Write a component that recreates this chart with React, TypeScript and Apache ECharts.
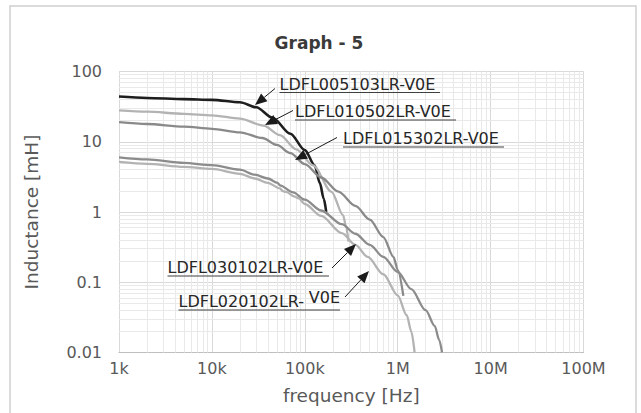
import React, { useEffect, useRef } from "react";
import * as echarts from "echarts";

// ---- axis tick labels ----
const xTickLabels = ["1k", "10k", "100k", "1M", "10M", "100M"];
const yTickLabels = ["0.01", "0.1", "1", "10", "100"];

// ---- series data (frequency [Hz], inductance [mH]) ----
const names = [
  "LDFL005103LR-V0E",
  "LDFL010502LR-V0E",
  "LDFL015302LR-V0E",
  "LDFL030102LR-V0E",
  "LDFL020102LR-V0E",
];

const f005103 = [1000, 2000, 5000, 10000, 20000, 30000, 45000, 70000, 100000, 128000, 145000, 160000, 170000];
const l005103 = [44, 42, 40.5, 39.5, 36.5, 31, 22, 13, 7.6, 4.6, 2.6, 1.55, 1.0];

const f010502 = [1000, 2000, 5000, 10000, 20000, 36000, 54000, 81000, 123000, 194000, 258000, 280000, 295000];
const l010502 = [28, 26.8, 25, 23.8, 21.3, 17, 12.4, 7.8, 4.6, 1.94, 0.9, 0.6, 0.38];

const f015302 = [1000, 2000, 5000, 10000, 20000, 35000, 50000, 70000, 100000, 150000, 230000, 350000, 500000, 700000, 900000, 1000000, 1150000];
const l015302 = [19, 17.9, 16.4, 15.3, 13.6, 11.3, 9.0, 6.9, 4.8, 3.1, 1.95, 1.22, 0.78, 0.44, 0.23, 0.15, 0.064];

const f030102 = [1000, 2000, 5000, 10000, 20000, 29000, 40000, 51000, 54000, 75000, 100000, 150000, 250000, 350000, 500000, 700000, 1000000, 1400000, 2000000, 2500000, 2800000, 3000000];
const l030102 = [6.0, 5.6, 5.0, 4.64, 4.0, 3.4, 3.0, 2.6, 2.4, 1.9, 1.5, 1.05, 0.67, 0.49, 0.34, 0.23, 0.14, 0.08, 0.04, 0.024, 0.015, 0.01];

const f020102 = [1000, 2000, 5000, 10000, 20000, 29000, 40000, 54000, 58000, 63000, 78000, 86000, 100000, 150000, 250000, 350000, 475000, 700000, 1000000, 1250000, 1400000, 1520000];
const l020102 = [5.17, 4.85, 4.4, 4.1, 3.5, 3.0, 2.6, 2.17, 1.98, 1.93, 1.65, 1.56, 1.3, 0.88, 0.5, 0.34, 0.23, 0.13, 0.065, 0.034, 0.02, 0.01];

const seriesColors = ["#1e1e1e", "#b3b3b3", "#8a8a8a", "#8c8c8c", "#b3b3b3"];
const seriesWidths = [2.6, 2.3, 2.3, 2.3, 2.3];

const pairs = (f: number[], l: number[]) => f.map((v, i) => [v, l[i]]);
const allData = [
  pairs(f005103, l005103),
  pairs(f010502, l010502),
  pairs(f015302, l015302),
  pairs(f030102, l030102),
  pairs(f020102, l020102),
];

// minor grid positions (2..9 within each decade)
const minorValues = (lo: number, hi: number) => {
  const out: number[] = [];
  for (let e = lo; e < hi; e++) {
    for (let m = 2; m <= 9; m++) out.push(m * Math.pow(10, e));
  }
  return out;
};
const xMinor = minorValues(3, 8);
const yMinor = minorValues(-2, 2);

const FONT = "DejaVu Sans";

function arrow(x1: number, y1: number, x2: number, y2: number) {
  const dx = x2 - x1;
  const dy = y2 - y1;
  const len = Math.sqrt(dx * dx + dy * dy);
  const ux = dx / len;
  const uy = dy / len;
  const hl = 12;
  const hw = 5;
  const bx = x2 - ux * hl;
  const by = y2 - uy * hl;
  return [
    {
      type: "line",
      z: 20,
      shape: { x1, y1, x2: bx, y2: by },
      style: { stroke: "#1a1a1a", lineWidth: 1 },
      silent: true,
    },
    {
      type: "polygon",
      z: 20,
      shape: {
        points: [
          [x2, y2],
          [bx - uy * hw, by + ux * hw],
          [bx + uy * hw, by - ux * hw],
        ],
      },
      style: { fill: "#1a1a1a" },
      silent: true,
    },
  ];
}

function label(text: string, x: number, cy: number, ulEnd: number, ulY: number) {
  return [
    {
      type: "text",
      z: 20,
      x,
      y: cy,
      style: { text, font: `16px "${FONT}"`, fill: "#262626", verticalAlign: "middle", align: "left" },
      silent: true,
    },
    {
      type: "line",
      z: 20,
      shape: { x1: x, y1: ulY, x2: ulEnd, y2: ulY },
      style: { stroke: "#404040", lineWidth: 1.2 },
      silent: true,
    },
  ];
}

export default function App() {
  const ref = useRef<HTMLDivElement>(null);

  useEffect(() => {
    if (!ref.current) return;
    const chart = echarts.init(ref.current, undefined, { renderer: "svg" });

    const lineSeries = allData.map((d, i) => ({
      name: names[i],
      type: "line",
      data: d,
      showSymbol: false,
      symbol: "none",
      smooth: 0.3,
      smoothMonotone: "x",
      z: 10,
      lineStyle: { color: seriesColors[i], width: seriesWidths[i] },
      itemStyle: { color: seriesColors[i] },
    }));

    const gridSeries = {
      type: "line",
      data: [[1000, 0.01]],
      showSymbol: false,
      symbol: "none",
      lineStyle: { opacity: 0 },
      silent: true,
      z: 1,
      markLine: {
        z: 1,
        silent: true,
        symbol: ["none", "none"],
        label: { show: false },
        lineStyle: { color: "#e9e9e9", width: 1, type: "solid" },
        emphasis: { disabled: true },
        animation: false,
        data: [...xMinor.map((v) => ({ xAxis: v })), ...yMinor.map((v) => ({ yAxis: v }))],
      },
    };

    const graphics: any[] = [
      {
        type: "rect",
        z: 20,
        shape: { x: 10, y: 6, width: 626, height: 430 },
        style: { fill: "none", stroke: "#d0d0d0", lineWidth: 1.5 },
        silent: true,
      },
      ...label("LDFL005103LR-V0E", 279.5, 84, 440, 92.5),
      ...arrow(275, 88.5, 255, 105),
      ...label("LDFL010502LR-V0E", 295, 111.5, 456, 120),
      ...arrow(293, 110.5, 265, 125),
      ...label("LDFL015302LR-V0E", 343, 138.5, 504, 147),
      ...arrow(337, 137.5, 295, 160),
      ...label("LDFL030102LR-V0E", 167.5, 267, 329, 276),
      ...arrow(332, 268, 356, 244),
      {
        type: "text",
        z: 20,
        x: 178.5,
        y: 301.5,
        style: { text: "LDFL020102LR-", font: `16px "${FONT}"`, fill: "#262626", verticalAlign: "middle", align: "left" },
        silent: true,
      },
      {
        type: "text",
        z: 20,
        x: 340,
        y: 297.5,
        style: { text: "V0E", font: `16px "${FONT}"`, fill: "#262626", verticalAlign: "middle", align: "right" },
        silent: true,
      },
      {
        type: "line",
        z: 20,
        shape: { x1: 178.5, y1: 310, x2: 340, y2: 310 },
        style: { stroke: "#404040", lineWidth: 1.2 },
        silent: true,
      },
      ...arrow(345, 297, 369, 271),
    ];

    chart.setOption({
      animation: false,
      backgroundColor: "#ffffff",
      title: {
        text: "Graph - 5",
        left: 314,
        top: 29,
        textAlign: "center",
        textStyle: { fontFamily: FONT, fontSize: 17, fontWeight: "bold", color: "#3a3a3a" },
      },
      grid: { left: 119, right: 57.5, top: 71.5, bottom: 60.5, containLabel: false },
      xAxis: {
        type: "log",
        logBase: 10,
        min: 1000,
        max: 100000000,
        name: "frequency [Hz]",
        nameLocation: "middle",
        nameGap: 33,
        nameTextStyle: { fontFamily: FONT, fontSize: 18.5, color: "#595959" },
        axisLine: { show: true, lineStyle: { color: "#bfbfbf", width: 1.2 } },
        axisTick: { show: false },
        axisLabel: {
          fontFamily: FONT,
          fontSize: 16,
          color: "#595959",
          margin: 8,
          formatter: (v: number) => xTickLabels[Math.round(Math.log10(v)) - 3] ?? "",
        },
        splitLine: { show: true, lineStyle: { color: "#d9d9d9", width: 1 } },
      },
      yAxis: {
        type: "log",
        logBase: 10,
        min: 0.01,
        max: 100,
        name: "Inductance [mH]",
        nameLocation: "middle",
        nameGap: 78,
        nameRotate: 90,
        nameTextStyle: { fontFamily: FONT, fontSize: 18.5, color: "#595959" },
        axisLine: { show: true, lineStyle: { color: "#d9d9d9", width: 1 } },
        axisTick: { show: false },
        axisLabel: {
          fontFamily: FONT,
          fontSize: 16,
          color: "#595959",
          margin: 17,
          formatter: (v: number) => yTickLabels[Math.round(Math.log10(v)) + 2] ?? "",
        },
        splitLine: { show: true, lineStyle: { color: "#d9d9d9", width: 1 } },
      },
      series: [gridSeries, ...lineSeries],
      graphic: graphics,
    });

    return () => chart.dispose();
  }, []);

  return (
    <div
      ref={ref}
      style={{ position: "absolute", left: 0, top: 0, width: 641, height: 413, background: "#fff" }}
    />
  );
}
